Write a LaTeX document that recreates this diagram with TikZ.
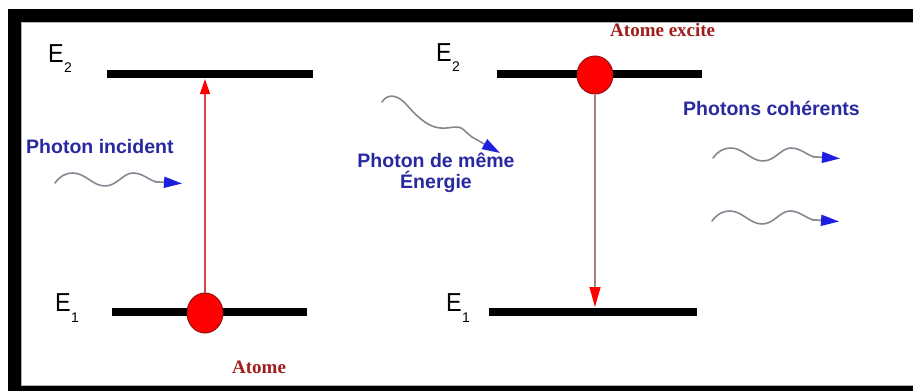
\documentclass[tikz,border=0pt]{standalone}
\usepackage{fontspec}
\setmainfont{Liberation Sans}
\newfontfamily\labserif{Liberation Serif}
\usetikzlibrary{arrows.meta,shapes.geometric}
\definecolor{txtblue}{RGB}{40,40,160}
\definecolor{tipblue}{RGB}{30,30,225}
\definecolor{wavegray}{RGB}{135,135,145}
\definecolor{atomred}{RGB}{255,0,0}
\definecolor{atomedge}{RGB}{150,20,20}
\definecolor{labred}{RGB}{160,30,30}
\definecolor{linered}{RGB}{215,70,70}
\definecolor{linebrown}{RGB}{175,125,125}
\begin{document}
\begin{tikzpicture}[x=1pt,y=-1pt,
  level/.style={line width=8pt, black},
  atom/.style={ellipse, draw=atomedge, fill=atomred, line width=1pt,
    minimum width=36pt, minimum height=40pt, inner sep=0pt},
  bluelab/.style={text=txtblue, font=\fontsize{19.5}{21}\selectfont\bfseries, inner sep=0pt},
  redlab/.style={text=labred, font=\labserif\fontsize{19}{19}\selectfont\bfseries, inner sep=0pt, anchor=base west},
  elab/.style={font=\fontsize{26}{26}\selectfont, inner sep=0pt, anchor=base west, xscale=0.9},
  esub/.style={font=\fontsize{14}{14}\selectfont, inner sep=0pt, anchor=base west},
  wavy/.style={wavegray, line width=1.6pt, line cap=round},
  bluetip/.style={wavy, -{Triangle[length=18pt,width=11pt,color=tipblue]}},
  photon/.pic={
    \draw[wavy] (0,1) .. controls (6,-7) and (12,-9) .. (18,-9)
      .. controls (30,-9) and (38,4) .. (50,4)
      .. controls (62,4) and (68,-9) .. (78,-9)
      .. controls (88,-9) and (95,-1) .. (102,0);
    \draw[bluetip] (100,-0.3) -- (127,1.5);
  }]
\useasboundingbox (0,0) rectangle (913,391);
\fill[white] (0,0) rectangle (913,391);

% energy levels
\coordinate (L2a) at (107,74); \coordinate (L2b) at (313,74);
\coordinate (L1a) at (112,312); \coordinate (L1b) at (307,312);
\coordinate (R2a) at (497,74); \coordinate (R2b) at (702,74);
\coordinate (R1a) at (489,312); \coordinate (R1b) at (697,312);
\draw[level] (L2a) -- (L2b);
\draw[level] (L1a) -- (L1b);
\draw[level] (R2a) -- (R2b);
\draw[level] (R1a) -- (R1b);

% level labels
\node[elab] (e2l) at (48,62) {E};
\node[esub] (e2ls) at (64,72) {2};
\node[elab] (e1l) at (55,311) {E};
\node[esub] (e1ls) at (71,322) {1};
\node[elab] (e2r) at (436,61) {E};
\node[esub] (e2rs) at (452,71) {2};
\node[elab] (e1r) at (446,311) {E};
\node[esub] (e1rs) at (462,322) {1};

% atoms
\node[atom] (atomL) at (205,313) {};
\node[atom, minimum height=38pt] (atomR) at (595,75) {};

% transitions
\coordinate (absTip) at (205,79);
\coordinate (emiTip) at (595,307);
\draw[linered, line width=1.2pt, -{Triangle[length=15pt,width=10pt,color=red]}] (atomL.north) -- (absTip);
\draw[linebrown, line width=1.2pt, -{Triangle[length=20pt,width=11pt,color=red]}] (atomR.south) -- (emiTip);

% photons
\coordinate (w1) at (55,182);
\coordinate (w3) at (713,157);
\coordinate (w4) at (712,220);
\pic at (w1) {photon};
\pic at (w3) {photon};
\pic at (w4) {photon};
\coordinate (w2s) at (382,102);
\coordinate (w2a) at (472,137);
\coordinate (w2tip) at (500,153);
\draw[wavy] (w2s) .. controls (387,94) and (396,94) .. (405,103)
  .. controls (414,113) and (426,127) .. (440,128)
  .. controls (452,129) and (457,124) .. (464,130)
  .. controls (467,133) .. (w2a);
\draw[bluetip] (w2a) -- (w2tip);

% texts
\node[bluelab, anchor=base west] (tInc) at (26,153) {Photon incident};
\node[bluelab, align=center, anchor=base] (tSame) at (436,188) {Photon de même\\Énergie};
\node[bluelab, anchor=base west] (tCoh) at (683,115) {Photons cohérents};
\node[redlab] (tAtome) at (232,373) {Atome};
\node[redlab] (tExc) at (610,36) {Atome excite};

% frame
\fill[black] (8,9) rectangle (913,22);
\fill[black] (8,9) rectangle (21,391);
\fill[black] (8,386) rectangle (913,391);
\draw[gray!60, line width=0.8pt] (21,22.4) -- (913,22.4);
\draw[gray!60, line width=0.8pt] (21.4,22) -- (21.4,386);
\draw[gray!60, line width=0.8pt] (21,385.6) -- (913,385.6);
\end{tikzpicture}
\end{document}
